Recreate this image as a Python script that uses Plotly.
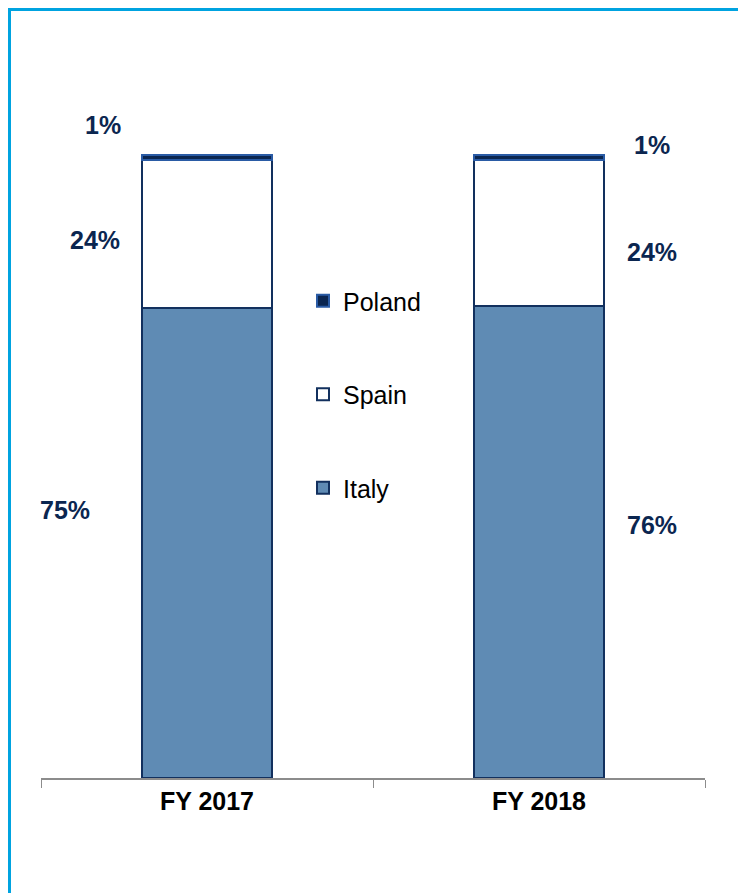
import plotly.graph_objects as go

categories = ["FY 2017", "FY 2018"]
italy = [75.4, 75.8]
spain = [23.8, 23.4]
poland = [0.8, 0.8]
italy_labels = ["75%", "76%"]
spain_labels = ["24%", "24%"]
poland_labels = ["1%", "1%"]

NAVY = "#0B2650"
FONT = "Liberation Sans, Arial"
fig = go.Figure()
fig.add_trace(go.Bar(name="Italy", x=categories, y=italy, legendgroup="it", legendrank=3,
                     marker=dict(color="#5F8BB4", line=dict(color="#12305E", width=2))))
fig.add_trace(go.Bar(name="Spain", x=categories, y=spain, legendgroup="es", legendrank=2,
                     marker=dict(color="#FFFFFF", line=dict(color="#12305E", width=2))))
fig.add_trace(go.Bar(name="Poland", x=categories, y=poland, legendgroup="pl", legendrank=1,
                     marker=dict(color="#0B2650", line=dict(color="#2A5BA5", width=2))))

OFF = 8  # page body margin
W, H = 746 - OFF, 893 - OFF
L, R = 41 - OFF, 746 - 705
T, B = 100 - OFF, 893 - 778
pw, ph = W - L - R, H - T - B
ymax = 108.8

def px2x(px):
    return (px - OFF - L) / pw

def py2y(py):
    return (778 - py) / 623 * 100

def py2paper(py):
    return (778 - py) / ph

ann = []
label_pos = [
    (poland_labels[0], 103, 125), (spain_labels[0], 95, 240), (italy_labels[0], 65, 510),
    (poland_labels[1], 652, 145), (spain_labels[1], 652, 252), (italy_labels[1], 652, 525),
]
for txt, px, py in label_pos:
    ann.append(dict(text="<b>%s</b>" % txt, x=px2x(px), xref="paper", y=py2y(py), yref="y",
                    xanchor="center", yanchor="middle", showarrow=False,
                    font=dict(family=FONT, size=25, color=NAVY)))

EDGE = 9.5
shapes = [
    dict(type="line", xref="paper", yref="paper", x0=px2x(EDGE - 1.5), x1=px2x(760),
         y0=py2paper(EDGE), y1=py2paper(EDGE), line=dict(color="#00A3E0", width=3)),
    dict(type="line", xref="paper", yref="paper", x0=px2x(EDGE), x1=px2x(EDGE),
         y0=py2paper(EDGE - 1.5), y1=py2paper(900), line=dict(color="#00A3E0", width=3)),
]

fig.update_layout(
    width=W, height=H, barmode="stack", bargap=0.61,
    margin=dict(l=L, r=R, t=T, b=B),
    paper_bgcolor="white", plot_bgcolor="white",
    font=dict(family=FONT, color="black"),
    showlegend=True,
    legend=dict(x=px2x(303), y=py2paper(278), xanchor="left", yanchor="top",
                traceorder="grouped", tracegroupgap=58,
                font=dict(size=25, color="black", family=FONT), bgcolor="rgba(0,0,0,0)"),
    annotations=ann, shapes=shapes,
)
fig.update_xaxes(type="category", showline=True, linecolor="#8C8C8C", linewidth=1.5,
                 ticks="outside", tickson="boundaries", ticklen=8, tickcolor="#8C8C8C",
                 tickfont=dict(size=25, color="black", family=FONT),
                 tickprefix="<b>", ticksuffix="</b>", showgrid=False)
fig.update_yaxes(range=[0, ymax], visible=False, showgrid=False)

fig.write_html("out.html")
